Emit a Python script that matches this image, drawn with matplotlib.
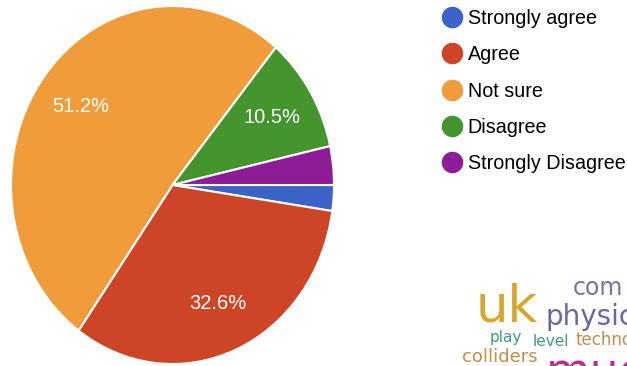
import matplotlib
matplotlib.use("Agg")
import matplotlib.pyplot as plt
from matplotlib.lines import Line2D

plt.rcParams['font.family'] = ['Liberation Sans', 'DejaVu Sans']

# Survey responses (counts)
categories = ["Strongly agree", "Agree", "Not sure", "Disagree", "Strongly Disagree"]
counts = [2, 28, 44, 9, 3]
colors = ["#3C63C8", "#CD4526", "#F19C3A", "#45952F", "#8C1D97"]

# Word cloud terms
words = ["uk", "com", "physic", "play", "level", "techno", "colliders", "muon"]
word_colors = ["#D6A72A", "#7575A5", "#6A66A8", "#3E9A85", "#3E9A85", "#C98A45", "#C98A45", "#C42A8E"]

W, H = 627, 366
fig = plt.figure(figsize=(W / 100, H / 100), dpi=100)

ax = fig.add_axes([11 / W, 2 / H, 323 / W, 358 / H])
wedges, texts, autotexts = ax.pie(
    counts, colors=colors, startangle=0, counterclock=False,
    autopct=lambda p: f"{p:.1f}%" if p > 5 else "", pctdistance=0.72,
    wedgeprops=dict(edgecolor="white", linewidth=1.5),
    textprops=dict(color="white", fontsize=14.5),
)
ax.set_aspect("auto")
ax.set_xlim(-1, 1)
ax.set_ylim(-1, 1)
ax.axis("off")

# Legend with round markers
handles = [Line2D([0], [0], marker="o", linestyle="", markersize=14.5,
                  markerfacecolor=c, markeredgecolor=c) for c in colors]
fig.legend(handles, categories, loc="upper left",
           bbox_to_anchor=(432 / W, 1 - 1 / H), frameon=False,
           fontsize=14.2, handletextpad=0.2, labelspacing=0.88,
           handlelength=1.2, borderaxespad=0)

# Word cloud fragment in the lower right
def px(x, y):
    return x / W, 1 - y / H

cloud = [
    (words[0], 476, 322, 37),
    (words[1], 573, 295, 17),
    (words[2], 545, 325, 20),
    (words[3], 490, 342, 11),
    (words[4], 533, 346, 11),
    (words[5], 576, 345, 12),
    (words[6], 462, 362, 13),
    (words[7], 546, 386, 33),
]
for (w, x, y, s), c in zip(cloud, word_colors):
    fx, fy = px(x, y)
    fig.text(fx, fy, w, fontsize=s, color=c, ha="left", va="baseline",
             family="DejaVu Sans")

fig.savefig("out.png", dpi=100)
